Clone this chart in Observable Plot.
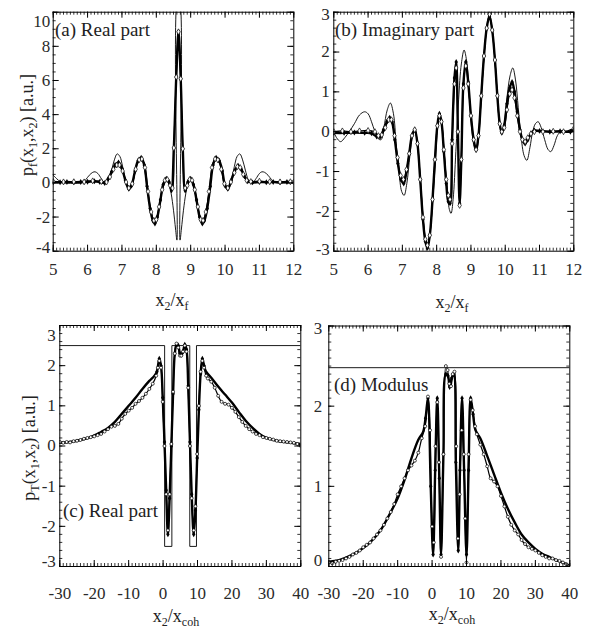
<!DOCTYPE html>
<html><head><meta charset="utf-8">
<script src="https://cdn.jsdelivr.net/npm/d3@7"></script>
<script src="https://cdn.jsdelivr.net/npm/@observablehq/plot@0.6"></script>
<style>
body{margin:0;background:#fff;}
#fig{position:relative;width:590px;height:629px;overflow:hidden;font-family:"Liberation Serif","Times New Roman",Tinos,"DejaVu Serif",serif;color:#222;background:#fff;}
#fig svg{position:absolute;left:0;top:0;}
#fig svg text{font-family:"Liberation Serif","Times New Roman",Tinos,"DejaVu Serif",serif;}
.lab{position:absolute;font-size:18px;white-space:nowrap;line-height:1;}
.plab{font-size:19px;}
.lab sub{font-size:12px;vertical-align:baseline;position:relative;top:4px;}
.rot{transform:translate(-50%,-50%) rotate(-90deg);}
.ctr{transform:translate(-50%,-50%);}
</style></head><body><div id="fig"></div>
<script>
// ---------------- data ----------------
const xTicksF = [5, 6, 7, 8, 9, 10, 11, 12];
const xTicksC = [-30, -20, -10, 0, 10, 20, 30, 40];
const yTicksA = [-4, -2, 0, 2, 4, 6, 8, 10];
const yTicksB = [-3, -2, -1, 0, 1, 2, 3];
const yTicksC = [-3, -2, -1, 0, 1, 2, 3];
const yTicksD = [0, 1, 2, 3];

// (a) real part, x2/xf
const aThin = [[5.0,0.45],[5.1,0.25],[5.2,0.08],[5.3,0.0],[5.5,-0.02],[5.7,-0.02],[5.85,0.02],[5.95,0.2],[6.05,0.45],[6.15,0.62],[6.22,0.65],[6.3,0.55],[6.4,0.25],[6.48,0.02],[6.55,-0.02],[6.62,0.2],[6.7,0.75],[6.78,1.35],[6.86,1.7],[6.94,1.55],[7.02,0.95],[7.1,0.2],[7.18,-0.3],[7.24,-0.35],[7.3,-0.1],[7.38,0.65],[7.46,1.25],[7.54,1.45],[7.62,1.15],[7.7,0.25],[7.78,-0.9],[7.86,-1.8],[7.94,-2.15],[8.0,-2.05],[8.08,-1.4],[8.16,-0.6],[8.24,0.0],[8.3,0.15],[8.36,0.0],[8.43,-0.6],[8.5,-1.6],[8.56,-2.7],[8.6,-3.35],[8.625,11],[8.665,11],[8.69,-3.35],[8.73,-2.7],[8.79,-1.6],[8.86,-0.6],[8.93,0.0],[8.99,0.15],[9.05,0.0],[9.13,-0.6],[9.21,-1.4],[9.29,-2.05],[9.35,-2.15],[9.43,-1.8],[9.51,-0.9],[9.59,0.25],[9.67,1.15],[9.75,1.45],[9.83,1.25],[9.91,0.65],[9.99,-0.1],[10.05,-0.35],[10.11,-0.3],[10.19,0.2],[10.27,0.95],[10.35,1.55],[10.43,1.7],[10.51,1.35],[10.59,0.75],[10.67,0.2],[10.74,-0.02],[10.81,0.02],[10.9,0.25],[11.0,0.55],[11.07,0.65],[11.15,0.62],[11.25,0.45],[11.35,0.2],[11.45,0.02],[11.6,-0.02],[11.8,0.0],[12.0,0.0]];
const aThick = [[5.0,0.05],[5.2,0.04],[5.4,0.05],[5.6,0.04],[5.8,0.05],[6.0,0.07],[6.2,0.1],[6.35,0.06],[6.5,0.0],[6.6,0.25],[6.7,0.65],[6.8,1.05],[6.9,1.2],[7.0,0.85],[7.1,0.15],[7.2,-0.35],[7.28,-0.15],[7.38,0.7],[7.47,1.3],[7.56,1.48],[7.65,1.05],[7.73,-0.2],[7.82,-1.5],[7.9,-2.2],[7.96,-2.38],[8.03,-2.0],[8.12,-1.0],[8.2,-0.1],[8.29,0.25],[8.37,0.05],[8.44,-0.45],[8.51,2.05],[8.58,6.2],[8.645,8.85],[8.71,6.1],[8.77,2.0],[8.84,-0.45],[8.92,0.05],[9.0,0.25],[9.08,-0.1],[9.17,-1.0],[9.26,-2.0],[9.34,-2.38],[9.4,-2.2],[9.48,-1.5],[9.57,-0.2],[9.65,1.05],[9.74,1.48],[9.83,1.3],[9.92,0.7],[10.0,-0.15],[10.08,-0.35],[10.18,0.15],[10.28,0.7],[10.38,1.0],[10.47,0.8],[10.56,0.4],[10.66,0.1],[10.8,0.03],[11.0,0.05],[11.2,0.04],[11.4,0.05],[11.6,0.04],[11.8,0.05],[12.0,0.05]];
const aOpen = [[5.0,0.08],[5.3,0.06],[5.6,0.07],[5.9,0.06],[6.15,0.12],[6.4,0.08],[6.55,0.05],[6.65,0.35],[6.75,0.8],[6.85,1.05],[6.93,1.05],[7.02,0.7],[7.12,0.05],[7.2,-0.3],[7.3,-0.05],[7.4,0.8],[7.5,1.35],[7.58,1.4],[7.67,0.9],[7.76,-0.5],[7.85,-1.7],[7.93,-2.2],[8.0,-2.15],[8.08,-1.4],[8.17,-0.4],[8.25,0.15],[8.32,0.2],[8.4,-0.15],[8.47,-0.3],[8.51,2.05],[8.58,6.2],[8.645,8.85],[8.71,6.1],[8.77,2.0],[8.84,-0.3],[8.9,-0.15],[8.97,0.2],[9.04,0.15],[9.12,-0.4],[9.21,-1.4],[9.29,-2.15],[9.36,-2.2],[9.44,-1.7],[9.53,-0.5],[9.62,0.9],[9.71,1.4],[9.79,1.35],[9.89,0.8],[9.98,-0.05],[10.08,-0.3],[10.17,0.05],[10.27,0.6],[10.36,0.95],[10.44,0.9],[10.53,0.5],[10.63,0.15],[10.75,0.08],[11.0,0.1],[11.3,0.07],[11.6,0.06],[11.9,0.07],[12.0,0.06]];

// (b) imaginary part, x2/xf
const bThin = [[5.0,0.0],[5.08,-0.15],[5.2,-0.25],[5.32,-0.15],[5.45,0.0],[5.6,0.2],[5.75,0.42],[5.9,0.5],[6.0,0.45],[6.1,0.25],[6.2,0.0],[6.3,-0.18],[6.38,-0.2],[6.46,0.1],[6.56,0.55],[6.65,0.72],[6.74,0.45],[6.82,-0.3],[6.9,-1.0],[6.98,-1.5],[7.05,-1.6],[7.13,-1.3],[7.22,-0.6],[7.3,-0.1],[7.37,0.05],[7.44,-0.3],[7.52,-1.1],[7.6,-2.1],[7.68,-2.7],[7.74,-2.85],[7.8,-2.6],[7.88,-1.8],[7.96,-0.8],[8.03,0.1],[8.09,0.4],[8.15,0.2],[8.22,-0.5],[8.3,-1.4],[8.37,-1.95],[8.42,-2.05],[8.48,-1.7],[8.56,-0.5],[8.64,0.8],[8.72,1.7],[8.8,2.05],[8.87,1.8],[8.95,0.9],[9.03,0.0],[9.1,-0.4],[9.16,-0.5],[9.23,-0.1],[9.3,0.85],[9.38,1.85],[9.46,2.6],[9.54,2.9],[9.62,2.55],[9.7,1.8],[9.77,0.9],[9.84,0.15],[9.9,-0.05],[9.97,0.2],[10.05,0.85],[10.14,1.4],[10.22,1.6],[10.3,1.3],[10.38,0.6],[10.46,-0.1],[10.55,-0.6],[10.63,-0.72],[10.72,-0.4],[10.8,0.0],[10.88,0.2],[10.96,0.25],[11.05,0.1],[11.15,-0.2],[11.25,-0.45],[11.33,-0.5],[11.42,-0.35],[11.52,-0.1],[11.62,0.0],[11.8,0.0],[12.0,0.0]];
const bThick = [[5.0,-0.03],[5.3,-0.03],[5.6,-0.02],[5.9,-0.03],[6.1,-0.04],[6.25,-0.12],[6.35,-0.13],[6.45,0.05],[6.55,0.25],[6.63,0.35],[6.7,0.25],[6.78,-0.2],[6.87,-0.8],[6.96,-1.2],[7.04,-1.3],[7.12,-1.0],[7.2,-0.55],[7.28,-0.1],[7.36,0.05],[7.44,-0.3],[7.52,-1.2],[7.6,-2.2],[7.67,-2.75],[7.73,-2.92],[7.8,-2.6],[7.88,-1.7],[7.95,-0.7],[8.02,0.15],[8.08,0.45],[8.14,0.25],[8.21,-0.5],[8.28,-1.3],[8.34,-1.75],[8.39,-1.8],[8.45,-0.2],[8.52,1.35],[8.57,1.75],[8.62,0.0],[8.67,-1.8],[8.72,-0.7],[8.78,1.2],[8.85,1.75],[8.92,1.25],[9.0,0.4],[9.08,-0.2],[9.15,-0.45],[9.22,-0.1],[9.3,0.9],[9.38,1.9],[9.46,2.6],[9.54,2.9],[9.62,2.55],[9.7,1.8],[9.77,0.9],[9.84,0.2],[9.9,-0.03],[9.97,0.15],[10.05,0.7],[10.13,1.1],[10.2,1.25],[10.27,1.0],[10.35,0.5],[10.43,0.05],[10.5,-0.2],[10.58,-0.3],[10.66,-0.2],[10.75,-0.05],[10.85,0.03],[11.0,0.02],[11.3,0.0],[11.6,0.01],[11.9,0.0],[12.0,0.05]];
const bOpen = [[5.0,0.0],[5.25,0.02],[5.5,0.0],[5.75,0.02],[6.0,0.03],[6.2,0.0],[6.3,-0.1],[6.4,-0.08],[6.5,0.1],[6.6,0.3],[6.68,0.3],[6.77,-0.1],[6.86,-0.65],[6.95,-1.1],[7.03,-1.2],[7.12,-0.95],[7.2,-0.55],[7.28,-0.1],[7.36,0.05],[7.44,-0.3],[7.52,-1.2],[7.6,-2.15],[7.67,-2.7],[7.73,-2.85],[7.8,-2.6],[7.88,-1.7],[7.95,-0.7],[8.02,0.15],[8.08,0.4],[8.14,0.25],[8.21,-0.45],[8.28,-1.2],[8.34,-1.6],[8.39,-1.7],[8.45,-0.3],[8.52,1.2],[8.57,1.6],[8.62,0.0],[8.67,-1.85],[8.72,-0.7],[8.78,1.1],[8.85,1.65],[8.92,1.2],[9.0,0.4],[9.08,-0.2],[9.15,-0.45],[9.22,-0.1],[9.3,0.9],[9.38,1.9],[9.46,2.6],[9.54,2.95],[9.62,2.55],[9.7,1.8],[9.77,0.9],[9.84,0.2],[9.9,0.0],[9.97,0.1],[10.05,0.55],[10.13,0.95],[10.2,1.05],[10.27,0.85],[10.35,0.4],[10.43,0.0],[10.5,-0.2],[10.58,-0.25],[10.66,-0.15],[10.75,-0.05],[10.85,0.0],[11.1,0.0],[11.4,0.01],[11.7,0.0],[12.0,0.08]];

// (c) real part, x2/xcoh
const cThin = [[-30,2.5],[0.45,2.5],[0.45,-2.5],[2.55,-2.5],[2.55,2.5],[7.75,2.5],[7.75,-2.5],[9.7,-2.5],[9.7,2.5],[40,2.5]];
const cThick = [[-30,0.08],[-27,0.1],[-24,0.15],[-21,0.22],[-18,0.35],[-16,0.45],[-14,0.6],[-12,0.8],[-10,1.0],[-8,1.2],[-6,1.42],[-4,1.62],[-2.5,1.75],[-1.8,1.85],[-1.1,2.17],[-0.6,2.0],[-0.1,1.2],[0.4,0.1],[0.9,-1.1],[1.4,-2.2],[1.9,-1.3],[2.4,0.0],[2.9,1.3],[3.4,2.3],[3.9,2.52],[4.4,2.5],[4.9,2.3],[5.3,2.27],[5.8,2.35],[6.3,2.52],[6.8,2.4],[7.3,1.5],[7.8,0.1],[8.3,-1.2],[8.9,-2.2],[9.4,-1.6],[9.9,-0.3],[10.4,0.9],[10.9,1.8],[11.4,2.17],[11.9,2.0],[12.5,1.85],[14,1.7],[16,1.48],[18,1.28],[20,1.08],[22,0.85],[24,0.63],[26,0.45],[28,0.3],[30,0.2],[33,0.13],[36,0.09],[40,0.05]];
const cOpen = [[-30,0.1],[-29,0.08],[-28,0.1],[-27,0.09],[-26,0.12],[-25,0.13],[-24,0.15],[-23,0.18],[-22,0.2],[-21,0.22],[-20,0.24],[-19,0.27],[-18,0.3],[-17,0.36],[-16,0.42],[-15,0.48],[-14,0.5],[-13,0.55],[-12,0.68],[-11,0.8],[-10,0.88],[-9,0.95],[-8,1.05],[-7,1.12],[-6,1.2],[-5,1.3],[-4,1.42],[-3,1.55],[-2,1.75],[-1.5,1.95],[-1.1,2.12],[-0.6,1.95],[-0.1,1.1],[0.4,0.0],[0.9,-1.2],[1.4,-2.1],[1.9,-1.2],[2.4,0.05],[2.9,1.35],[3.4,2.3],[3.9,2.55],[4.4,2.45],[4.9,2.25],[5.3,2.25],[5.8,2.35],[6.3,2.5],[6.8,2.35],[7.3,1.45],[7.8,0.0],[8.3,-1.3],[8.9,-2.1],[9.4,-1.5],[9.9,-0.2],[10.4,1.0],[10.9,1.85],[11.4,2.12],[11.9,1.95],[12.5,1.75],[13,1.68],[14,1.6],[15,1.45],[16,1.25],[17,1.1],[18,1.05],[19,1.03],[20,0.95],[21,0.85],[22,0.72],[23,0.6],[24,0.5],[25,0.42],[26,0.36],[27,0.3],[28,0.27],[29,0.22],[30,0.2],[31,0.18],[32,0.16],[33,0.13],[34,0.12],[35,0.11],[36,0.1],[37,0.09],[38,0.08],[39,0.05],[40,0.0]];

// (d) modulus, x2/xcoh
const dThin = [[-30,2.48],[40,2.48]];
const dThick = [[-30,0.06],[-27,0.08],[-24,0.13],[-21,0.2],[-18,0.3],[-15,0.45],[-12,0.68],[-10,0.85],[-8,1.08],[-6,1.35],[-4,1.58],[-2.6,1.68],[-1.9,1.85],[-1.2,2.1],[-0.4,1.0],[0.3,0.15],[0.9,1.2],[1.5,2.1],[2.1,1.1],[2.6,0.15],[3.3,1.4],[4.0,2.4],[4.6,2.38],[5.1,2.24],[5.7,2.35],[6.3,2.4],[6.9,1.3],[7.6,0.2],[8.1,1.2],[8.7,2.1],[9.3,1.2],[10.0,0.15],[10.6,1.2],[11.2,2.1],[11.9,1.9],[12.6,1.7],[14,1.6],[16,1.38],[18,1.15],[20,0.92],[22,0.72],[24,0.55],[26,0.4],[28,0.3],[30,0.22],[32,0.16],[34,0.12],[36,0.08],[38,0.05],[40,0.01]];
const dOpen = [[-30,0.05],[-29,0.04],[-28,0.06],[-27,0.07],[-26,0.08],[-25,0.1],[-24,0.12],[-23,0.15],[-22,0.17],[-21,0.2],[-20,0.24],[-19,0.27],[-18,0.3],[-17,0.35],[-16,0.4],[-15,0.45],[-14,0.52],[-13,0.6],[-12,0.68],[-11,0.78],[-10,0.9],[-9,1.0],[-8,1.1],[-7,1.2],[-6,1.26],[-5,1.32],[-4,1.42],[-3,1.6],[-2,1.75],[-1.2,2.12],[-0.6,1.7],[0.0,0.5],[0.5,0.3],[1.0,1.5],[1.5,2.05],[2.0,1.3],[2.6,0.12],[3.3,1.4],[4.0,2.5],[4.5,2.45],[5.0,2.28],[5.5,2.25],[6.0,2.4],[6.5,2.43],[7.0,1.5],[7.5,0.35],[8.0,0.9],[8.6,1.7],[9.2,1.4],[9.6,0.6],[10.0,0.05],[10.6,1.4],[11.2,2.08],[11.8,1.95],[12.5,1.75],[13,1.65],[14,1.52],[15,1.4],[16,1.25],[17,1.1],[18,1.06],[19,1.0],[20,0.88],[21,0.75],[22,0.62],[23,0.52],[24,0.45],[25,0.4],[26,0.33],[27,0.28],[28,0.24],[29,0.22],[30,0.2],[31,0.17],[32,0.14],[33,0.12],[34,0.1],[35,0.1],[36,0.08],[37,0.07],[38,0.05],[39,0.03],[40,0.01]];

// ---------------- drawing ----------------
const W = 590, H = 629;
const FONT = "'Liberation Serif','Times New Roman',Tinos,'DejaVu Serif',serif";
const fig = document.getElementById("fig");
const steps = (a, b, s) => d3.range(Math.round((b - a) / s) + 1).map(i => +(a + i * s).toFixed(6));
const X = d => d[0], Y = d => d[1];

function panel(p) {
  const [fx0, fy0, fx1, fy1] = p.frame;
  const [x0, x1] = p.xDomain, [y0, y1] = p.yDomain;
  const iw = fx1 - fx0, ih = fy1 - fy0;
  const vy = len => len / ih * (y1 - y0);
  const vx = len => len / iw * (x1 - x0);
  const xMin = steps(x0, x1, p.xMinor), yMin = steps(y0, y1, p.yMinor);
  const yMid = p.yTicks.filter(t => t !== y0 && t !== y1);
  const yLo = p.yTicks.filter(t => t === y0), yHi = p.yTicks.filter(t => t === y1);
  const txt = {fontSize: 17, fill: "#2a2a2a", lineAnchor: "middle"};
  const thickMarks = p.markRange ? p.thick.filter(d => d[0] > p.markRange[0] && d[0] < p.markRange[1]) : p.thick;
  const marks = [
    Plot.line(p.thin, {x: X, y: Y, stroke: "black", strokeWidth: 0.9, curve: p.thinCurve, clip: true}),
    Plot.line(p.open, {x: X, y: Y, stroke: "black", strokeWidth: 1.2, curve: "catmull-rom", clip: true}),
    Plot.line(p.thick, {x: X, y: Y, stroke: "black", strokeWidth: 2.4, curve: "catmull-rom", clip: true}),
    Plot.dot(thickMarks, {x: X, y: Y, symbol: "diamond", r: 1.8, fill: "black", clip: true}),
    Plot.dot(p.open, {x: X, y: Y, symbol: p.openSymbol, r: p.openR, fill: "white", stroke: "black", strokeWidth: 0.7, clip: true}),
    // ticks (inward, all four sides)
    Plot.ruleX(p.xTicks, {x: d => d, y1: y0, y2: y0 + vy(6), stroke: "black"}),
    Plot.ruleX(p.xTicks, {x: d => d, y1: y1, y2: y1 - vy(6), stroke: "black"}),
    Plot.ruleX(xMin, {x: d => d, y1: y0, y2: y0 + vy(3), stroke: "black", strokeWidth: 0.8}),
    Plot.ruleX(xMin, {x: d => d, y1: y1, y2: y1 - vy(3), stroke: "black", strokeWidth: 0.8}),
    Plot.ruleY(p.yTicks, {y: d => d, x1: x0, x2: x0 + vx(6), stroke: "black"}),
    Plot.ruleY(p.yTicks, {y: d => d, x1: x1, x2: x1 - vx(6), stroke: "black"}),
    Plot.ruleY(yMin, {y: d => d, x1: x0, x2: x0 + vx(3), stroke: "black", strokeWidth: 0.8}),
    Plot.ruleY(yMin, {y: d => d, x1: x1, x2: x1 - vx(3), stroke: "black", strokeWidth: 0.8}),
    Plot.frame({stroke: "black", strokeWidth: 1}),
    // tick labels
    Plot.text(p.xTicks, {x: d => d, text: d => String(d), frameAnchor: "bottom", dy: p.xLabDy, ...txt}),
    Plot.text(yMid, {y: d => d, text: d => String(d), frameAnchor: "left", textAnchor: "end", dx: p.yLabDx, ...txt}),
    Plot.text(yLo, {y: d => d, text: d => String(d), frameAnchor: "left", textAnchor: "end", dx: p.yLabDx, dy: p.yEndDy[0], ...txt}),
    Plot.text(yHi, {y: d => d, text: d => String(d), frameAnchor: "left", textAnchor: "end", dx: p.yLabDx, dy: p.yEndDy[1], ...txt})
  ];
  const svg = Plot.plot({
    width: W, height: H,
    marginLeft: fx0, marginTop: fy0, marginRight: W - fx1, marginBottom: H - fy1,
    x: {domain: p.xDomain, axis: null},
    y: {domain: p.yDomain, axis: null},
    style: {background: "transparent", overflow: "visible", fontFamily: FONT},
    marks
  });
  fig.appendChild(svg);
}

panel({frame: [52.7, 11.7, 293.3, 250.7], xDomain: [5, 12], yDomain: [-4, 10], xTicks: xTicksF, yTicks: yTicksA,
  xMinor: 0.1, yMinor: 0.5, xLabDy: 18, yLabDx: -3, yEndDy: [-4, 9],
  thin: aThin, thick: aThick, open: aOpen, thinCurve: "catmull-rom", openSymbol: "diamond", openR: 1.8});
panel({frame: [333.3, 11.7, 573.3, 250.7], xDomain: [5, 12], yDomain: [-3, 3], xTicks: xTicksF, yTicks: yTicksB,
  xMinor: 0.1, yMinor: 0.2, xLabDy: 18, yLabDx: -4, yEndDy: [-1.5, 2.5],
  thin: bThin, thick: bThick, open: bOpen, thinCurve: "catmull-rom", openSymbol: "diamond", openR: 1.8});
panel({frame: [59.3, 325, 300.3, 566], xDomain: [-30, 40], yDomain: [-3, 3], xTicks: xTicksC, yTicks: yTicksC,
  xMinor: 1, yMinor: 0.2, xLabDy: 27, yLabDx: -4, yEndDy: [-5, 10],
  thin: cThin, thick: cThick, open: cOpen, thinCurve: "linear", openSymbol: "circle", openR: 1.5, markRange: [-2, 12.5]});
panel({frame: [328.3, 325.5, 569.3, 566], xDomain: [-30, 40], yDomain: [0, 3], xTicks: xTicksC, yTicks: yTicksD,
  xMinor: 1, yMinor: 0.1, xLabDy: 27, yLabDx: -6.5, yEndDy: [-5.5, 2.6],
  thin: dThin, thick: dThick, open: dOpen, thinCurve: "linear", openSymbol: "circle", openR: 1.5, markRange: [-2, 12.5]});

// ---------------- text labels ----------------
function label(html, left, top, cls) {
  const el = document.createElement("div");
  el.className = "lab" + (cls ? " " + cls : "");
  el.style.left = left + "px";
  el.style.top = top + "px";
  el.innerHTML = html;
  fig.appendChild(el);
}
label("(a) Real part", 55, 20, "plab");
label("(b) Imaginary part", 335, 20, "plab");
label("(c) Real part", 63, 501, "plab");
label("(d) Modulus", 334, 375, "plab");
label("p<sub>f</sub>(x<sub>1</sub>,x<sub>2</sub>) [a.u.]", 27, 125, "rot");
label("p<sub>T</sub>(x<sub>1</sub>,x<sub>2</sub>) [a.u.]", 29, 448, "rot");
label("x<sub>2</sub>/x<sub>f</sub>", 172, 300, "ctr");
label("x<sub>2</sub>/x<sub>f</sub>", 452, 302, "ctr");
label("x<sub>2</sub>/x<sub>coh</sub>", 176, 616, "ctr");
label("x<sub>2</sub>/x<sub>coh</sub>", 452, 614, "ctr");
</script>
</body></html>
